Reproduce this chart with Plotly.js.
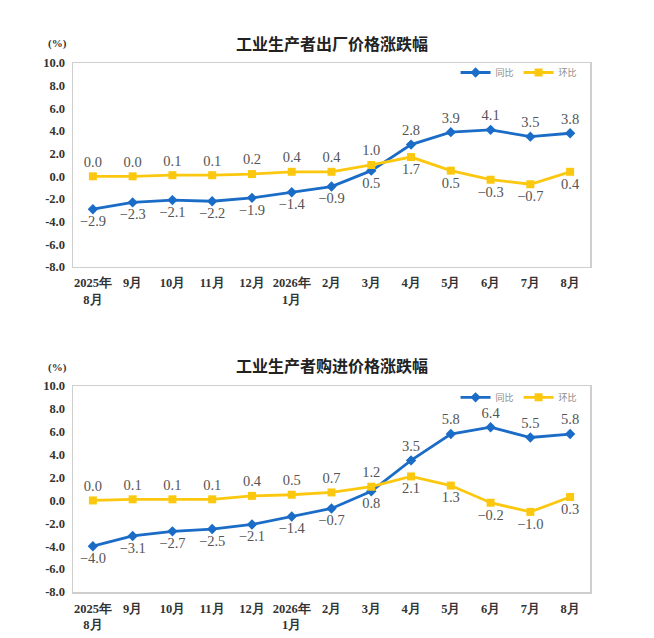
<!DOCTYPE html>
<html>
<head>
<meta charset="utf-8">
<script src="https://cdn.plot.ly/plotly-3.0.1.min.js"></script>
<style>
  html, body { margin: 0; padding: 0; background: #fff; }
  #chart { width: 654px; height: 638px; }
</style>
</head>
<body>
<div id="chart"></div>
<script>
const months = ["2025年<br>8月", "9月", "10月", "11月", "12月", "2026年<br>1月", "2月", "3月", "4月", "5月", "6月", "7月", "8月"];

// 工业生产者出厂价格
const ppiYoy = [-2.9, -2.3, -2.1, -2.2, -1.9, -1.4, -0.9, 0.5, 2.8, 3.9, 4.1, 3.5, 3.8];
const ppiMom = [0.0, 0.0, 0.1, 0.1, 0.2, 0.4, 0.4, 1.0, 1.7, 0.5, -0.3, -0.7, 0.4];

// 工业生产者购进价格
const ippYoy = [-4.0, -3.1, -2.7, -2.5, -2.1, -1.4, -0.7, 0.8, 3.5, 5.8, 6.4, 5.5, 5.8];
const ippMom = [0.0, 0.1, 0.1, 0.1, 0.4, 0.5, 0.7, 1.2, 2.1, 1.3, -0.2, -1.0, 0.3];

const yTicks = [-8, -6, -4, -2, 0, 2, 4, 6, 8, 10];

const BLUE = "#1a6cc6";
const YELLOW = "#fcc80f";
const labelFont = { family: "Liberation Serif, DejaVu Serif, serif", size: 14.5, color: "#555" };

// 前 8 个点：同比标签在下、环比在上；之后反过来
const yoyPos = months.map((m, i) => (i < 8 ? "bottom center" : "top center"));
const momPos = months.map((m, i) => (i < 8 ? "top center" : "bottom center"));

function fmt(v) {
  return v.toFixed(1).replace("-", "−");
}

function lineTrace(name, values, color, symbol, size, positions, xa, ya, legend) {
  return {
    type: "scatter",
    mode: "lines+markers+text",
    name,
    x: months,
    y: values,
    xaxis: xa,
    yaxis: ya,
    legend,
    line: { color, width: 2.8 },
    marker: { color, symbol, size },
    text: values.map(fmt),
    textposition: positions,
    textfont: labelFont,
    cliponaxis: false,
    hoverinfo: "skip",
  };
}

const data = [
  lineTrace("同比", ppiYoy, BLUE, "diamond", 8, yoyPos, "x", "y", "legend"),
  lineTrace("环比", ppiMom, YELLOW, "square", 8, momPos, "x", "y", "legend"),
  lineTrace("同比", ippYoy, BLUE, "diamond", 8, yoyPos, "x2", "y2", "legend2"),
  lineTrace("环比", ippMom, YELLOW, "square", 8, momPos, "x2", "y2", "legend2"),
];

const topDomain = [0.6144, 1];
const botDomain = [0, 0.3894];
const zeroPos = (d) => d[0] + (d[1] - d[0]) * 8 / 18;

const tickFont = { family: "Liberation Serif, DejaVu Serif, serif", size: 12.5, color: "#333", weight: "bold" };
const frameColor = "#cfcfcf";

function catAxis(anchor) {
  return {
    type: "category",
    anchor,
    range: [-0.5, 12.5],
    showgrid: false,
    zeroline: false,
    showline: true,
    mirror: true,
    linecolor: frameColor,
    linewidth: 1.5,
    ticks: "",
    tickfont: tickFont,
    ticklabelstandoff: 4,
    fixedrange: true,
  };
}

function valAxis(domain, anchor) {
  return {
    domain,
    anchor,
    range: [-8, 10],
    tickvals: yTicks,
    ticktext: yTicks.map((v) => v.toFixed(1)),
    showgrid: false,
    zeroline: false,
    showline: true,
    mirror: true,
    linecolor: frameColor,
    linewidth: 1.5,
    ticks: "",
    tickfont: tickFont,
    ticklabelstandoff: 4,
    fixedrange: true,
  };
}

// 零线上的分隔刻度
function zeroAxis(over, domain) {
  return {
    overlaying: over,
    anchor: "free",
    position: zeroPos(domain),
    range: [-0.5, 12.5],
    tickmode: "array",
    tickvals: [0.5, 1.5, 2.5, 3.5, 4.5, 5.5, 6.5, 7.5, 8.5, 9.5, 10.5, 11.5],
    ticks: "inside",
    ticklen: 4,
    tickcolor: "#bdbdbd",
    showticklabels: false,
    showgrid: false,
    zeroline: false,
    showline: true,
    linecolor: "#bdbdbd",
    linewidth: 1,
    fixedrange: true,
  };
}

function legendBox(y) {
  return {
    orientation: "h",
    x: 0.74,
    y,
    xanchor: "left",
    yanchor: "middle",
    bgcolor: "rgba(0,0,0,0)",
    font: { family: "Noto Sans CJK SC, sans-serif", size: 9, color: "#8a8a8a" },
    itemwidth: 30,
    tracegroupgap: 0,
  };
}

const titleFont = { family: "Noto Sans CJK SC, sans-serif", size: 16, color: "#222" };
const unitFont = { family: "Liberation Serif, serif", size: 11, color: "#333" };

const layout = {
  width: 654,
  height: 638,
  margin: { l: 73, r: 64, t: 63, b: 46 },
  paper_bgcolor: "#fff",
  plot_bgcolor: "#fff",
  showlegend: true,
  xaxis: catAxis("y"),
  yaxis: valAxis(topDomain, "x"),
  xaxis2: catAxis("y2"),
  yaxis2: valAxis(botDomain, "x2"),
  xaxis3: zeroAxis("x", topDomain),
  xaxis4: zeroAxis("x2", botDomain),
  legend: legendBox(0.982),
  legend2: legendBox(0.368),
  annotations: [
    {
      text: "<b>工业生产者出厂价格涨跌幅</b>",
      xref: "paper", yref: "paper",
      x: 0.5, y: 1.012, xanchor: "center", yanchor: "bottom",
      showarrow: false,
      font: titleFont,
    },
    {
      text: "<b>工业生产者购进价格涨跌幅</b>",
      xref: "paper", yref: "paper",
      x: 0.5, y: 0.402, xanchor: "center", yanchor: "bottom",
      showarrow: false,
      font: titleFont,
    },
    {
      text: "<b>(%)</b>",
      xref: "paper", yref: "paper",
      x: -0.03, y: 1.02, xanchor: "center", yanchor: "bottom",
      showarrow: false,
      font: unitFont,
    },
    {
      text: "<b>(%)</b>",
      xref: "paper", yref: "paper",
      x: -0.03, y: 0.409, xanchor: "center", yanchor: "bottom",
      showarrow: false,
      font: unitFont,
    },
  ],
};

Plotly.newPlot("chart", data, layout, { displayModeBar: false, staticPlot: true });
</script>
</body>
</html>
